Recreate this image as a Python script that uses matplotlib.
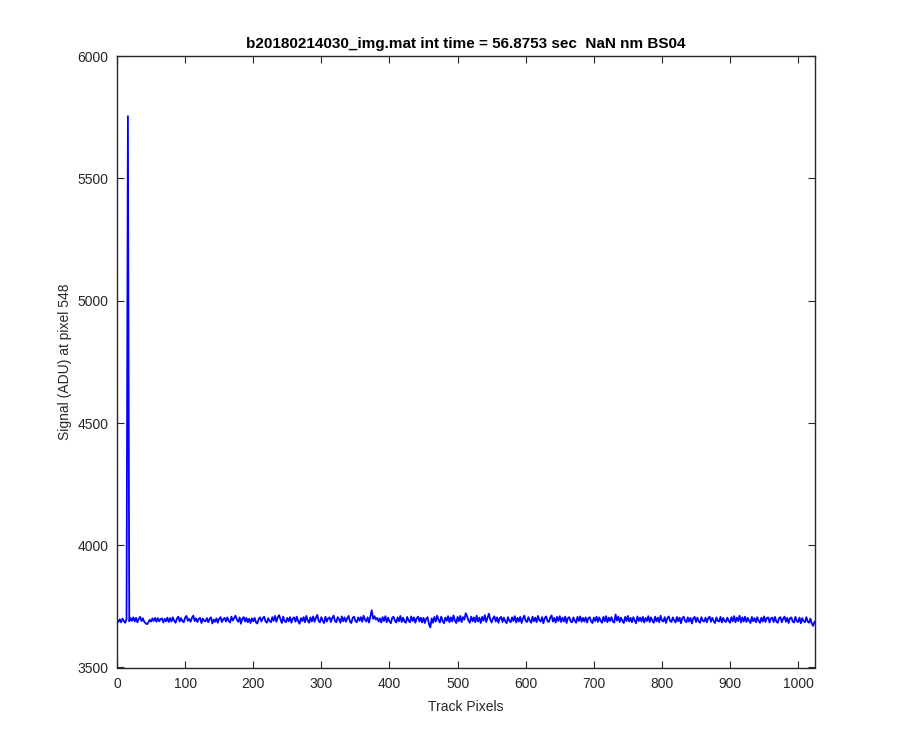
import numpy as np
import matplotlib
matplotlib.use("Agg")
import matplotlib.pyplot as plt

plt.rcParams['font.family'] = ['Liberation Sans', 'DejaVu Sans']

# signal, every 2nd track pixel, as offset from the baseline
baseline = 3693
offsets = [
    -6, 4, -8, 7, -3, -10, 5, 2062, -4, 9, -2, 12, -5, 10, -8, 6, 14, -3, 8, -6, -12, -16, -9, 2, -5, 8, -3, 10, -6, 9, -4, 5,
    8, -9, 6, -4, 11, -7, 9, -5, 12, -2, -10, 7, 15, -5, 9, -3, -8, 11, 18, -2, 6, -6, 10, 19, -3, 8, -7, 6, 10, -11, 7, -2,
    -4, 9, -8, 6, 12, -13, 3, -6, 8, -10, 6, 13, -7, 5, 10, -5, 12, -2, -9, 15, -1, 9, 19, 2, -6, 12, -14, 7, 13, -5, 10, -8,
    6, -11, 8, -4, 10, -8, -13, 6, 12, -5, 8, 15, -4, -10, 9, -3, -8, 13, -2, 18, -6, 12, 21, 4, -11, 15, -3, -8, 10, -4, 13, -10,
    7, 12, -6, 15, -4, -14, 9, -3, 13, -8, 18, -1, -10, 12, -5, 16, -6, 10, 22, -3, -8, 13, -2, -11, 15, -5, 8, 12, -7, 10, 19, -3,
    -8, 13, 4, -10, 16, -4, 12, -6, 8, 18, -5, -11, 10, 15, -3, -8, 12, -2, 13, -6, 19, 3, -5, 12, -9, 15, 41, 6, 17, 3, 10, -5,
    8, -9, 13, -3, 17, -8, 11, -4, -12, 10, 15, -2, -9, 12, -4, 18, -7, 11, -5, -10, 14, -1, -8, 16, -3, 12, -10, 8, 15, -5, 11, -9,
    10, -11, 7, 13, -16, -29, 8, -10, 14, -5, 19, 2, -9, 15, -3, -12, 11, -2, 17, -8, 12, -5, 20, -1, -11, 14, -4, 18, -7, 13, 3, 29,
    16, -1, -10, 15, -4, 12, -8, 19, -5, 11, -11, 14, -2, 21, -7, 10, 27, 3, -9, 8, 16, -5, 12, -10, 9, 14, -7, 11, -4, -12, 13, -2,
    -8, 12, -3, 17, -9, 10, -5, 14, -11, 8, 19, -3, -7, 13, -1, -10, 15, -4, 11, -8, 18, 0, -5, 13, -12, 9, 16, -3, -7, 11, 20, -5,
    10, -9, 14, -3, 17, -7, 11, -5, 15, -11, 9, 13, -4, -8, 12, -2, -10, 14, -3, 16, -6, 10, -5, 12, -9, 8, 13, -4, -11, 11, -3, 15,
    -7, 12, -2, -10, 14, -4, 17, -8, 11, -3, 13, -5, -9, 24, -1, 15, -7, 11, -2, -11, 14, -3, 18, -5, 10, -8, 13, -1, -12, 16, -3, 11,
    -5, 14, -9, 10, -3, 17, -7, 12, -2, -10, 15, -4, 11, -8, 19, -1, -5, 13, -11, 8, 16, -3, -7, 12, 0, -9, 14, -4, 11, -12, 9, 15,
    -3, -8, 12, -5, 10, -13, 8, 14, -7, 11, -4, -10, 13, -2, -5, 11, -8, 9, 15, -6, 10, -3, -11, 12, -2, -5, 14, -9, 10, -3, -7, 11,
    -2, -10, 13, -4, 17, -8, 11, -3, 19, -9, 12, -5, 15, -7, 10, -2, -11, 14, -4, 9, -8, 13, -3, -10, 11, -5, 16, -7, 9, 12, -9, 8,
    11, -7, 14, -5, -10, 9, 13, -8, 7, 15, -6, 10, -11, 8, 12, -5, -9, 14, -3, -7, 11, -12, 9, -4, -8, 13, -5, -10, 7, -13, -23, -6,
]
xticks = [0, 100, 200, 300, 400, 500, 600, 700, 800, 900, 1000]
yticks = [3500, 4000, 4500, 5000, 5500, 6000]

signal = baseline + np.array(offsets)
pixels = 2 * np.arange(1, len(signal) + 1)

fig = plt.figure(figsize=(9, 7.5), dpi=100)
ax = fig.add_axes([0.13, 0.11, 0.775, 0.815])
ax.plot(pixels, signal, color=(0, 0, 1), linewidth=1.3)

ax.set_xlim(0, 1024)
ax.set_ylim(3500, 6000)
ax.set_xticks(xticks)
ax.set_yticks(yticks)

edge = (0.15, 0.15, 0.15)
for s in ax.spines.values():
    s.set_color(edge)
    s.set_linewidth(1.0)
ax.tick_params(direction='in', length=5, width=0.8, colors=edge, labelsize=10,
               top=True, right=True)
ax.tick_params(axis='x', pad=7)
ax.tick_params(axis='y', pad=6)

ax.set_xlabel('Track Pixels', fontsize=10, color=edge, labelpad=6)
ax.set_ylabel('Signal (ADU) at pixel 548', fontsize=10, color=edge, labelpad=4)
ax.set_title('b20180214030_img.mat int time = 56.8753 sec  NaN nm BS04',
             fontsize=11, fontweight='bold', pad=6)

fig.savefig('out.png', dpi=100, facecolor='white')
